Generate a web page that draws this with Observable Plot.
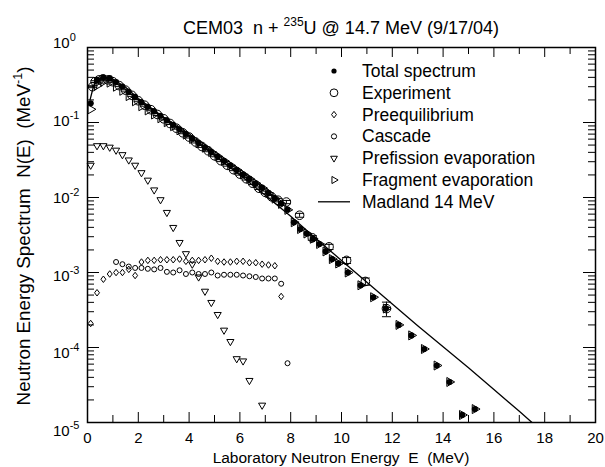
<!DOCTYPE html>
<html><head><meta charset="utf-8">
<script src="https://cdn.jsdelivr.net/npm/d3@7"></script>
<script src="https://cdn.jsdelivr.net/npm/@observablehq/plot@0.6"></script>
<style>
body{margin:0;background:#fff}
svg{font-family:"Liberation Sans",Arial,Helvetica,sans-serif}
</style>
</head><body><div id="chart"></div>
<script>
// ---------------- data ----------------
const totalE = [0.125,0.375,0.625,0.875,1.125,1.375,1.625,1.875,2.125,2.375,2.625,2.875,3.125,3.375,3.625,3.875,4.125,4.375,4.625,4.875,5.125,5.375,5.625,5.875,6.125,6.375,6.625,6.875,7.125,7.375,7.625,7.875,8.125,8.375,8.625,8.875,9.125,9.375,9.625,9.875,10.25,10.75,11.25,11.75,12.25,12.75,13.25,13.75,14.25,14.75,15.25];
const totalN = [0.18,0.37,0.40,0.39,0.347,0.302,0.257,0.219,0.186,0.162,0.141,0.123,0.107,0.0933,0.0813,0.0708,0.0617,0.0537,0.0468,0.0407,0.0355,0.0309,0.0269,0.0234,0.0204,0.0178,0.0155,0.0135,0.0115,0.00977,0.00832,0.00692,0.00468,0.0038,0.00331,0.00282,0.0024,0.00191,0.00151,0.00132,0.001,6.76e-4,4.68e-4,3.31e-4,2.0e-4,1.45e-4,9.55e-5,5.75e-5,3.47e-5,1.26e-5,1.51e-5];

const fragE = totalE;
const fragN = [0.15,0.31,0.35,0.34,0.30,0.265,0.225,0.192,0.165,0.145,0.128,0.114,0.101,0.0893,0.0788,0.0690,0.0604,0.0528,0.0462,0.0403,0.0352,0.0307,0.0268,0.0233,0.0203,0.0177,0.0154,0.0134,0.0114,0.00967,0.00822,0.00684,0.00468,0.0038,0.00331,0.00282,0.0024,0.00191,0.00151,0.00132,0.001,6.76e-4,4.68e-4,3.31e-4,2.0e-4,1.45e-4,9.55e-5,5.75e-5,3.47e-5,1.26e-5,1.51e-5];

const prefE = [0.125,0.375,0.625,0.875,1.125,1.375,1.625,1.875,2.125,2.375,2.625,2.875,3.125,3.375,3.625,3.875,4.125,4.375,4.625,4.875,5.125,5.375,5.625,5.875,6.125,6.375,6.875];
const prefN = [0.0269,0.049,0.049,0.0468,0.0427,0.0372,0.0316,0.0269,0.0214,0.017,0.0126,0.00933,0.00631,0.00398,0.00251,0.00178,0.00129,8.71e-4,5.62e-4,3.98e-4,2.75e-4,1.70e-4,1.20e-4,7.08e-5,6.61e-5,3.63e-5,1.70e-5];

const preqE = [0.125,0.375,0.625,0.875,1.125,1.375,1.625,1.875,2.125,2.375,2.625,2.875,3.125,3.375,3.625,3.875,4.125,4.375,4.625,4.875,5.125,5.375,5.625,5.875,6.125,6.375,6.625,6.875,7.125,7.375,7.625];
const preqN = [2.09e-4,5.37e-4,8.13e-4,9.55e-4,1.0e-3,1.0e-3,1.10e-3,9.12e-4,1.38e-3,1.45e-3,1.45e-3,1.48e-3,1.48e-3,1.48e-3,1.51e-3,1.41e-3,1.45e-3,1.45e-3,1.48e-3,1.55e-3,1.41e-3,1.38e-3,1.38e-3,1.41e-3,1.41e-3,1.35e-3,1.35e-3,1.29e-3,1.26e-3,1.23e-3,4.79e-4];

const cascE = [1.125,1.375,1.625,1.875,2.125,2.375,2.625,2.875,3.125,3.375,3.625,3.875,4.125,4.375,4.625,4.875,5.125,5.375,5.625,5.875,6.125,6.375,6.625,6.875,7.125,7.375,7.625,7.875];
const cascN = [1.38e-3,1.29e-3,1.20e-3,1.15e-3,1.15e-3,1.12e-3,1.10e-3,1.15e-3,1.02e-3,1.0e-3,1.07e-3,9.55e-4,1.0e-3,9.55e-4,9.55e-4,1.0e-3,9.12e-4,9.33e-4,9.33e-4,9.33e-4,9.12e-4,8.91e-4,8.71e-4,8.32e-4,8.32e-4,8.32e-4,7.08e-4,6.17e-5];

const expE = [0.2,0.3,0.45,0.6,0.8,1.0,1.25,1.5,1.75,2.0,2.25,2.5,2.75,3.0,3.25,3.5,3.75,4.0,4.25,4.5,4.75,5.0,5.25,5.5,5.75,6.0,6.25,6.5,6.75,7.0,7.25,7.5,7.83,8.35,8.85,9.51,10.2,10.94,11.77];
const expN = [0.30,0.35,0.37,0.38,0.37,0.35,0.31,0.27,0.23,0.195,0.17,0.148,0.128,0.112,0.097,0.084,0.073,0.064,0.055,0.048,0.042,0.036,0.031,0.027,0.0235,0.0205,0.0178,0.0155,0.0133,0.0117,0.0102,0.0092,0.0087,0.0058,0.0029,0.0022,0.00145,7.6e-4,3.3e-4];
const expErr = [0.03,0.03,0.03,0.03,0.03,0.03,0.03,0.03,0.03,0.03,0.03,0.03,0.03,0.03,0.03,0.03,0.03,0.03,0.03,0.03,0.03,0.03,0.03,0.03,0.03,0.03,0.04,0.04,0.04,0.04,0.04,0.05,0.05,0.06,0.07,0.08,0.09,0.11,0.22];

const madE = [0.1,0.25,0.5,0.75,1,1.5,2,3,4,5,6,7,8,9,10,11,12,13,14,15,16,17,17.5];
const madN = [0.200,0.316,0.380,0.398,0.380,0.295,0.209,0.117,0.0661,0.0363,0.0200,0.0107,0.00562,0.00282,0.00145,7.41e-4,3.80e-4,1.95e-4,1.02e-4,5.37e-5,2.75e-5,1.41e-5,1.0e-5];

const xMajor = [0,2,4,6,8,10,12,14,16,18,20];
const xMinor = [1,3,5,7,9,11,13,15,17,19];
const yDecadeExp = [0,-1,-2,-3,-4,-5];

const legendLabels = ["Total spectrum","Experiment","Preequilibrium","Cascade","Prefission evaporation","Fragment evaporation","Madland 14 MeV"];

// ---------------- build ----------------
const zip = (E, N) => E.map((e, i) => ({E: e, N: N[i]}));
const total = zip(totalE, totalN);
const frag = zip(fragE, fragN);
const pref = zip(prefE, prefN);
const preq = zip(preqE, preqN);
const casc = zip(cascE, cascN);
const mad = zip(madE, madN);
const exper = expE.map((e, i) => ({E: e, N: expN[i], lo: expN[i] * (1 - expErr[i]), hi: expN[i] * (1 + expErr[i])}));

const yMajor = yDecadeExp.map(p => Math.pow(10, p));
const yMinor = [];
for (const p of yDecadeExp.slice(1)) for (let m = 2; m <= 9; m++) yMinor.push(m * Math.pow(10, p));

// custom symbols
const triDown = {draw(ctx, size) {
  const r = Math.sqrt(size / Math.PI);
  const L = 2.1 * r, h = L * Math.sqrt(3) / 2;
  ctx.moveTo(-L / 2, -h / 3); ctx.lineTo(L / 2, -h / 3); ctx.lineTo(0, 2 * h / 3); ctx.closePath();
}};
const triRight = {draw(ctx, size) {
  const r = Math.sqrt(size / Math.PI);
  const L = 2.1 * r, h = L * Math.sqrt(3) / 2;
  ctx.moveTo(-h / 3, -L / 2); ctx.lineTo(2 * h / 3, 0); ctx.lineTo(-h / 3, L / 2); ctx.closePath();
}};
const diam = {draw(ctx, size) {
  const r = Math.sqrt(size / Math.PI);
  const w = 0.8 * r, hh = 1.05 * r;
  ctx.moveTo(0, -hh); ctx.lineTo(w, 0); ctx.lineTo(0, hh); ctx.lineTo(-w, 0); ctx.closePath();
}};
const cap = {draw(ctx, size) {
  const w = 4.5;
  ctx.moveTo(-w, 0); ctx.lineTo(w, 0);
}};

const W = 605, H = 467, mt = 47, mb = 45, ml = 87, mr = 10;
const fH = H - mt - mb, fW = W - ml - mr;

const plot = Plot.plot({
  width: W, height: H,
  marginTop: mt, marginBottom: mb, marginLeft: ml, marginRight: mr,
  style: {fontFamily: '"Liberation Sans", Arial, sans-serif', background: "white", color: "black"},
  x: {domain: [0, 20], axis: null},
  y: {type: "log", domain: [1e-5, 1], axis: null},
  marks: [
    Plot.line(mad, {x: "E", y: "N", stroke: "black", strokeWidth: 1.3, clip: true}),
    Plot.dot(frag, {x: "E", y: "N", symbol: triRight, r: 4.3, stroke: "black", strokeWidth: 1, fill: "none"}),
    Plot.dot(total, {x: "E", y: "N", symbol: "circle", r: 3.1, fill: "black", stroke: "none"}),
    Plot.dot(casc, {x: "E", y: "N", symbol: "circle", r: 2.5, stroke: "black", strokeWidth: 1, fill: "none"}),
    Plot.dot(preq, {x: "E", y: "N", symbol: diam, r: 3.1, stroke: "black", strokeWidth: 1, fill: "none"}),
    Plot.dot(pref, {x: "E", y: "N", symbol: triDown, r: 3.4, stroke: "black", strokeWidth: 1, fill: "none"}),
    Plot.ruleX(exper, {x: "E", y1: "lo", y2: "hi", stroke: "black", strokeWidth: 1}),
    Plot.dot(exper, {x: "E", y: "lo", symbol: cap, stroke: "black", strokeWidth: 1}),
    Plot.dot(exper, {x: "E", y: "hi", symbol: cap, stroke: "black", strokeWidth: 1}),
    Plot.dot(exper, {x: "E", y: "N", symbol: "circle", r: 4.3, stroke: "black", strokeWidth: 1, fill: "none"}),
    // ticks (inward, all four sides)
    Plot.tickX(xMajor, {x: d => d, insetBottom: fH - 10, stroke: "black"}),
    Plot.tickX(xMajor, {x: d => d, insetTop: fH - 10, stroke: "black"}),
    Plot.tickX(xMinor, {x: d => d, insetBottom: fH - 7, stroke: "black"}),
    Plot.tickX(xMinor, {x: d => d, insetTop: fH - 7, stroke: "black"}),
    Plot.tickY(yMajor, {y: d => d, insetRight: fW - 12, stroke: "black"}),
    Plot.tickY(yMajor, {y: d => d, insetLeft: fW - 12, stroke: "black"}),
    Plot.tickY(yMinor, {y: d => d, insetRight: fW - 7, stroke: "black"}),
    Plot.tickY(yMinor, {y: d => d, insetLeft: fW - 7, stroke: "black"}),
    Plot.axisX({ticks: xMajor, tickSize: 0, tickPadding: 10, fontSize: 15, label: null, anchor: "bottom"}),
    Plot.frame({stroke: "black", strokeWidth: 1.5})
  ]
});

document.getElementById("chart").appendChild(plot);
const svg = d3.select(plot);
const ys = plot.scale("y");

// y tick labels with superscripts (labels sit progressively lower toward the bottom, as in the reference)
for (const p of yDecadeExp) {
  const y = ys.apply(Math.pow(10, p));
  const t = svg.append("text").attr("x", 53).attr("y", y + 1 + 2.6 * (-p)).attr("text-anchor", "start")
    .attr("font-size", 15).attr("fill", "black");
  t.append("tspan").text("10");
  t.append("tspan").attr("dy", -7).attr("font-size", 11).text(String(p));
}

// title
const title = svg.append("text").attr("x", 341).attr("y", 34).attr("text-anchor", "middle")
  .attr("font-size", 18).attr("fill", "black").style("white-space", "pre");
title.append("tspan").text("CEM03  n + ");
title.append("tspan").attr("dy", -8).attr("font-size", 12).text("235");
title.append("tspan").attr("dy", 8).text("U @ 14.7 MeV (9/17/04)");

// x axis title
svg.append("text").attr("x", 341).attr("y", 463).attr("text-anchor", "middle")
  .attr("font-size", 15.5).attr("fill", "black").style("white-space", "pre")
  .text("Laboratory Neutron Energy  E  (MeV)");

// y axis title
const yt = svg.append("text").attr("transform", "translate(30,236) rotate(-90)").attr("text-anchor", "middle")
  .attr("font-size", 18.8).attr("fill", "black").style("white-space", "pre");
yt.append("tspan").text("Neutron Energy Spectrum  N(E)  (MeV");
yt.append("tspan").attr("dy", -8).attr("font-size", 12.5).text("-1");
yt.append("tspan").attr("dy", 8).text(")");

// legend
const lg = svg.append("g");
const rowY = i => 71 + i * 21.8;
const symX = 334;
const sym = (type, r) => d3.symbol(type, Math.PI * r * r)();
const legendSyms = [
  {path: sym(d3.symbolCircle, 2.6), fill: "black", stroke: "none"},
  {path: sym(d3.symbolCircle, 3.9), fill: "none", stroke: "black"},
  {path: sym(diam, 3.1), fill: "none", stroke: "black"},
  {path: sym(d3.symbolCircle, 2.6), fill: "none", stroke: "black"},
  {path: sym(triDown, 3.2), fill: "none", stroke: "black"},
  {path: sym(triRight, 3.4), fill: "none", stroke: "black"},
  null
];
legendLabels.forEach((lab, i) => {
  const y = rowY(i);
  const s = legendSyms[i];
  if (s) lg.append("path").attr("d", s.path).attr("transform", `translate(${symX},${y})`)
    .attr("fill", s.fill).attr("stroke", s.stroke);
  else lg.append("line").attr("x1", 318).attr("x2", 350).attr("y1", y).attr("y2", y).attr("stroke", "black").attr("stroke-width", 1.3);
  lg.append("text").attr("x", 362).attr("y", y + 6).attr("text-anchor", "start")
    .attr("font-size", 17.5).attr("fill", "black").text(lab);
});
</script>
</body></html>
